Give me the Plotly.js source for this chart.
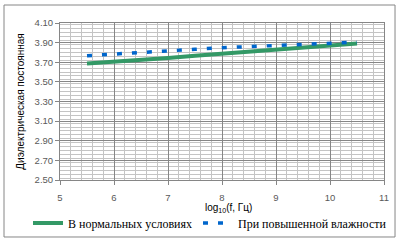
<!DOCTYPE html>
<html><head><meta charset="utf-8">
<script src="https://cdn.plot.ly/plotly-3.0.1.min.js"></script>
<style>html,body{margin:0;padding:0;background:#fff;}#c{width:403px;height:242px;}</style>
</head><body><div id="c"></div>
<script>
const logF = [5.5, 6, 6.5, 7, 7.5, 8, 8.5, 9, 9.5, 10, 10.5];
const normal = [3.687, 3.703, 3.722, 3.744, 3.766, 3.788, 3.809, 3.829, 3.850, 3.870, 3.890];
const humid = [3.767, 3.785, 3.800, 3.818, 3.832, 3.848, 3.861, 3.873, 3.886, 3.896, 3.905];
const seriesNames = ['В нормальных условиях', 'При повышенной влажности'];
const xTicks = [5, 6, 7, 8, 9, 10, 11];
const yTicks = [2.5, 2.7, 2.9, 3.1, 3.3, 3.5, 3.7, 3.9, 4.1];
const xTitle = 'log<sub>10</sub>(f, Гц)';
const yTitle = 'Диэлектрическая постоянная';

const tickFont = {family: 'Liberation Sans', size: 9.5, color: '#595959'};
const legFont = {family: 'Liberation Serif', size: 12, color: '#000'};
const titleFont = {family: 'Liberation Sans', size: 10, color: '#000'};
const traces = [
  {x: logF, y: normal, name: seriesNames[0], mode: 'lines', type: 'scatter', legend: 'legend',
   line: {color: '#339966', width: 4}},
  {x: logF, y: humid, name: seriesNames[1], mode: 'lines', type: 'scatter', legend: 'legend2',
   line: {color: '#0066cc', width: 3.5, dash: '5px,10px'}}
];
const layout = {
  width: 403, height: 242,
  margin: {l: 60, r: 19, t: 23, b: 62, autoexpand: false},
  paper_bgcolor: '#fff', plot_bgcolor: '#fff',
  showlegend: true,
  legend: {xref: 'container', yref: 'container', x: 28 / 403, y: 1 - 223 / 242,
    xanchor: 'left', yanchor: 'middle', font: legFont, itemwidth: 30, bgcolor: 'rgba(0,0,0,0)'},
  legend2: {xref: 'container', yref: 'container', x: 198 / 403, y: 1 - 223 / 242,
    xanchor: 'left', yanchor: 'middle', font: legFont, itemwidth: 30, bgcolor: 'rgba(0,0,0,0)'},
  xaxis: {range: [5, 11], tickvals: xTicks, ticktext: xTicks.map(String),
    showgrid: true, gridcolor: '#868686', gridwidth: 1,
    minor: {dtick: 0.2, showgrid: true, gridcolor: '#c4c4c4', gridwidth: 1, ticks: ''},
    ticks: 'outside', ticklen: 4, tickcolor: '#868686',
    showline: true, linecolor: '#868686', mirror: true, zeroline: false,
    tickfont: tickFont, ticklabelstandoff: 5},
  yaxis: {range: [2.5, 4.1], tickvals: yTicks, ticktext: yTicks.map(v => v.toFixed(2)),
    showgrid: true, gridcolor: '#868686', gridwidth: 1,
    minor: {dtick: 0.04, showgrid: true, gridcolor: '#c4c4c4', gridwidth: 1, ticks: ''},
    ticks: 'outside', ticklen: 4, tickcolor: '#868686',
    showline: true, linecolor: '#868686', mirror: true, zeroline: false,
    tickfont: tickFont},
  annotations: [
    {text: xTitle, xref: 'paper', yref: 'paper', x: 0.52, y: -0.178,
     xanchor: 'center', yanchor: 'middle', showarrow: false, font: titleFont},
    {text: yTitle, xref: 'paper', yref: 'paper', x: -0.123, y: 0.5, textangle: -90,
     xanchor: 'center', yanchor: 'middle', showarrow: false, font: titleFont}
  ],
  shapes: [{type: 'rect', xref: 'paper', yref: 'paper', x0: -0.1728, x1: 1.034, y0: -0.363, y1: 1.1146,
    line: {color: '#868686', width: 1}, fillcolor: 'rgba(0,0,0,0)', layer: 'below'}]
};
Plotly.newPlot('c', traces, layout, {staticPlot: true, displayModeBar: false});
</script></body></html>
